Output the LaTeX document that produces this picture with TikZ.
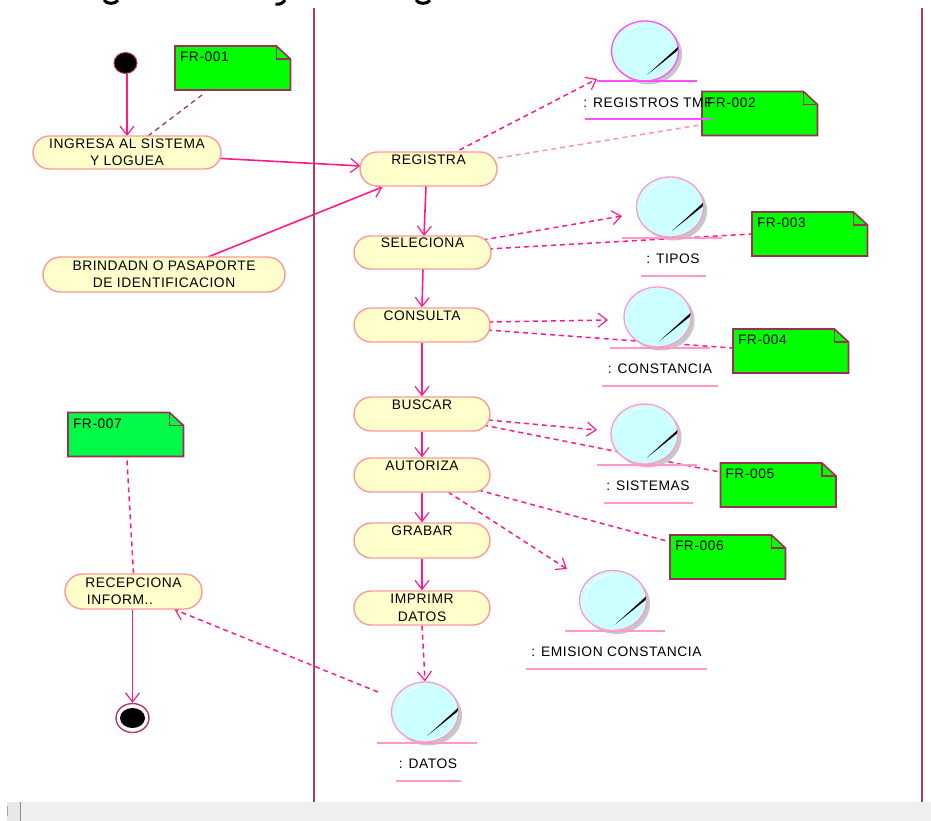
\documentclass[tikz,border=0pt]{standalone}
\usepackage{fontspec}
\setmainfont[LetterSpace=4]{Liberation Sans}
\usetikzlibrary{arrows.meta,shapes.geometric,shapes.misc,backgrounds}
\definecolor{lane}{HTML}{B03A6A}
\definecolor{notegreen}{HTML}{00FF00}
\definecolor{notegreenb}{HTML}{00FA48}
\definecolor{noteline}{HTML}{A02C58}
\definecolor{actfill}{HTML}{FFFFCC}
\definecolor{actline}{HTML}{FF9999}
\definecolor{flow}{HTML}{FF1A8C}
\definecolor{entfill}{HTML}{CCFFFF}
\definecolor{entpink}{HTML}{FF99CC}
\definecolor{entmag}{HTML}{FF4DFF}
\tikzset{
  activity/.style={rounded rectangle,draw=actline,fill=actfill,line width=1.4pt,inner sep=0pt,
    minimum height=34pt,align=center,font=\fontsize{13.8}{17}\selectfont},
  notebox/.style={rectangle,inner sep=0pt,minimum width=115pt,minimum height=44pt,
    text width=105pt,align=left,font=\fontsize{13.8}{17}\selectfont},
  notefold/.style={draw=noteline,line width=1.6pt},
  flowline/.style={draw=flow,line width=1.6pt,-{Straight Barb[length=9pt,width=14pt,line width=1.2pt]}},
  depline/.style={draw=flow,line width=1.5pt,dash pattern=on 5pt off 4pt,-{Straight Barb[length=9pt,width=14pt,line width=1.2pt]}},
  noteconn/.style={draw=flow,line width=1.5pt,dash pattern=on 5pt off 4pt},
  lanerule/.style={draw=lane,line width=2pt},
  entcircle/.style={ellipse,fill=entfill,line width=1.3pt,inner sep=0pt,minimum width=67pt,minimum height=60pt},
  entlabel/.style={inner sep=0pt,font=\fontsize{13.8}{17}\selectfont},
}
\newcommand{\entobj}[6][entpink]{%
  \fill[black!22] (#3) +(3.5,3.5) ellipse [x radius=33.5,y radius=30];
  \node[entcircle,draw=#1] (#2) at (#3) {};
  \draw[white,line width=0.9pt] ([shift={(-27,-1)}]#2.center) .. controls ([shift={(-27,-15)}]#2.center) and ([shift={(-15,-26)}]#2.center) .. ([shift={(0,-26)}]#2.center);
  \fill[black] ([shift={(2,24)}]#2.center) -- ([shift={(33,-4)}]#2.center) -- ([shift={(32.5,-0.5)}]#2.center) -- cycle;
  \draw[#1,line width=2pt] ([shift={(-48,30.5)}]#2.center) -- ([shift={(52,30.5)}]#2.center);
  \node[entlabel] (#2-l) at (#5) {#4};
  \draw[#1,line width=2pt] ([shift={(-#6,16.5)}]#2-l.center) -- ([shift={(#6,16.5)}]#2-l.center);
}
\newcommand{\frnote}[4][notegreen]{%
  \filldraw[notefold,fill=#1] (#3) ++(-57.5,-22) -- ++(101.5,0) -- ++(14,13) -- ++(0,31) -- ++(-115.5,0) -- cycle;
  \draw[notefold] (#3) ++(44,-22) -- ++(0,13) -- ++(14,0);
  \node[notebox] (#2) at (#3) {#4\\[5pt]~};
}
\begin{document}
\begin{tikzpicture}[x=1pt,y=-1pt]
\useasboundingbox (0,0) rectangle (931,821);
\fill[black!6] (21,802) rectangle (931,821);
\fill[black!9] (7,802) rectangle (20,821);
\draw[black!45,line width=1pt] (20.5,802) -- (20.5,821);
\draw[black!35,line width=1pt] (7.5,806) -- (7.5,816);
\draw[black,line width=3pt] (104,0) .. controls (106,4.5) and (116,4.5) .. (118,0);
\draw[black,line width=3pt] (275.5,4) .. controls (280,5) and (283,3) .. (285,0);
\draw[black,line width=3pt] (416,0) .. controls (418,4.5) and (428,4.5) .. (430,0);
\coordinate (l1a) at (313.5,8); \coordinate (l1b) at (313.5,802);
\coordinate (l2a) at (922,8);   \coordinate (l2b) at (922,802);
\draw[lanerule] (l1a) -- (l1b);
\draw[lanerule] (l2a) -- (l2b);
\node[ellipse,fill=black,draw=lane,line width=1pt,inner sep=0pt,minimum width=23pt,minimum height=21pt] (start) at (125.5,63) {};
\node[ellipse,draw=lane,fill=white,line width=1.4pt,inner sep=0pt,minimum width=33pt,minimum height=29pt] (stop) at (132.5,718) {};
\node[ellipse,fill=black,inner sep=0pt,minimum width=25pt,minimum height=20pt] (stopin) at (132.5,718) {};
\node[activity,minimum width=188pt,minimum height=33pt] (ing) at (127,152.5) {INGRESA AL SISTEMA\\Y LOGUEA};
\node[activity,minimum width=242pt,minimum height=35pt] (bri) at (164,274.5) {BRINDADN O PASAPORTE\\DE IDENTIFICACION};
\node[activity,minimum width=137pt] (reg) at (428.5,169) {REGISTRA\\[2pt]~};
\node[activity,minimum width=137pt,minimum height=33pt] (sel) at (422.5,252.5) {SELECIONA\\[2pt]~};
\node[activity,minimum width=136pt] (con) at (422,325) {CONSULTA\\[2pt]~};
\node[activity,minimum width=136pt] (bus) at (422,414) {BUSCAR\\[2pt]~};
\node[activity,minimum width=136pt] (aut) at (422,475) {AUTORIZA\\[2pt]~};
\node[activity,minimum width=136pt,minimum height=35pt] (gra) at (422,540.5) {GRABAR\\[2pt]~};
\node[activity,minimum width=136pt] (imp) at (422,608) {IMPRIMR\\[1pt]DATOS};
\node[activity,minimum width=137pt,minimum height=35pt,align=left] (rec) at (133.5,591.5) {RECEPCIONA\\\hspace{1.5pt}INFORM..};
\frnote{n1}{232.5,68}{FR-001}
\frnote{n2}{759.5,113.5}{FR-002}
\frnote{n3}{809.5,234}{FR-003}
\frnote{n4}{790.5,351}{FR-004}
\frnote{n5}{778,485}{FR-005}
\frnote{n6}{727.5,557}{FR-006}
\frnote[notegreenb]{n7}{125.5,434.5}{FR-007}
\entobj[entmag]{e1}{645,51}{: REGISTROS TMF}{648,103}{63.5}
\entobj{e2}{670,207}{: TIPOS}{673,259}{32.5}
\entobj{e3}{657.5,317}{: CONSTANCIA}{660,369}{58}
\entobj{e4}{644.5,434}{: SISTEMAS}{648,486}{44.5}
\entobj{e5}{613,600.5}{: EMISION CONSTANCIA}{616.5,652}{90.5}
\entobj{e6}{425,712}{: DATOS}{428,764}{32.5}
\begin{scope}[on background layer]
\draw[flowline] (start.south) ++(1.5,0) -- ([shift={(0,-16.5)}]ing.center);
\draw[flowline] ([shift={(85,5.5)}]ing.center) -- ([shift={(-68,-3)}]reg.center);
\draw[flowline] ([shift={(44,-17.5)}]bri.center) -- ([shift={(-46,18)}]reg.center);
\draw[flowline] ([shift={(-2.5,17)}]reg.center) -- ([shift={(1.5,-16.5)}]sel.center);
\draw[flowline] ([shift={(0.5,16.5)}]sel.center) -- (con.north);
\draw[flowline] (con.south) -- (bus.north);
\draw[flowline] (bus.south) -- (aut.north);
\draw[flowline] (aut.south) -- (gra.north);
\draw[flowline] (gra.south) -- (imp.north);
\draw[flowline] ([shift={(-1,17.5)}]rec.center) -- (stop.north);
\draw[depline] (imp.south) -- (e6.north);
\draw[depline] ([shift={(-47,-20)}]e6.center) -- ([shift={(41,18)}]rec.center);
\draw[depline] ([shift={(31,-19)}]reg.center) -- ([shift={(-48,28)}]e1.center);
\draw[depline] ([shift={(60,-12.5)}]sel.center) -- ([shift={(-48,9)}]e2.center);
\draw[depline] ([shift={(66,-3)}]con.center) -- ([shift={(-49.5,3)}]e3.center);
\draw[depline] ([shift={(66,6)}]bus.center) -- ([shift={(-47.5,-4)}]e4.center);
\draw[depline] ([shift={(26,17)}]aut.center) -- ([shift={(-46,-31.5)}]e5.center);
\draw[noteconn,draw=noteline,line width=1.2pt] ([shift={(21,-16.5)}]ing.center) -- ([shift={(-30.5,27)}]n1.center);
\draw[noteconn,draw=actline] ([shift={(69.5,-11)}]reg.center) -- ([shift={(-59.5,11.5)}]n2.center);
\draw[noteconn] ([shift={(65.5,-3.5)}]sel.center) -- (n3.west);
\draw[noteconn] ([shift={(65,5)}]con.center) -- ([shift={(-58.5,-3)}]n4.center);
\draw[noteconn] ([shift={(61,11)}]bus.center) -- ([shift={(-58,-13)}]n5.center);
\draw[noteconn] ([shift={(56,15)}]aut.center) -- ([shift={(-60.5,-16)}]n6.center);
\draw[noteconn] ([shift={(1.5,26)}]n7.center) -- (rec.north);
\end{scope}
\end{tikzpicture}
\end{document}
